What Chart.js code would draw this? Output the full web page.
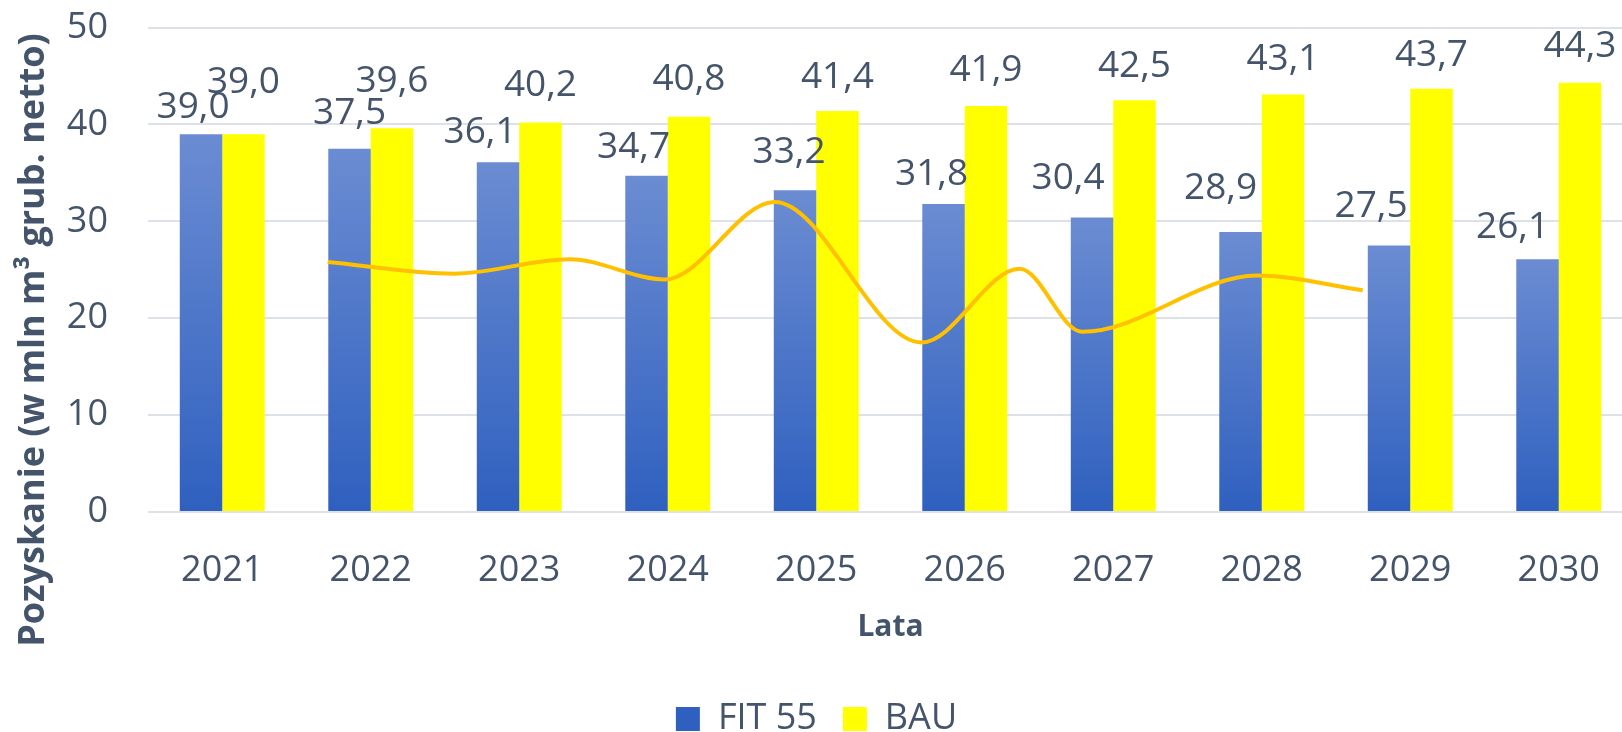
<!DOCTYPE html>
<html lang="pl">
<head>
<meta charset="UTF-8">
<title>Pozyskanie – FIT 55 i BAU</title>
<script src="https://cdn.jsdelivr.net/npm/chart.js"></script>
<style>
  html, body { margin: 0; padding: 0; background: #fff; overflow: hidden; }
  /* canvas pulled up a bit: chart.js keeps ~60px above the plot for the top tick label */
  .chart-box { position: relative; top: -34px; width: 1640px; height: 781px; }
</style>
</head>
<body>
<div class="chart-box"><canvas id="chart"></canvas></div>
<script>
  // dane
  const years = ['2021', '2022', '2023', '2024', '2025', '2026', '2027', '2028', '2029', '2030'];
  const fit55 = [39.0, 37.5, 36.1, 34.7, 33.2, 31.8, 30.4, 28.9, 27.5, 26.1];
  const bau = [39.0, 39.6, 40.2, 40.8, 41.4, 41.9, 42.5, 43.1, 43.7, 44.3];
  const yTicks = [0, 10, 20, 30, 40, 50];

  // hand-drawn orange curve (x in years, y in mln m3)
  const curveX = [2021.71, 2022.56, 2023.34, 2023.98, 2024.72, 2025.71, 2026.37, 2026.79, 2027.97, 2028.68];
  const curveY = [25.8, 24.6, 26.1, 24.0, 32.0, 17.5, 25.1, 18.6, 24.4, 22.9];

  // label nudges [dx, gap above bar top] in px - the labels were moved by hand in the original
  const fitLabelShift = [[-8, 27], [0, 35], [-18, 30], [-13, 28], [-6, 38], [-12, 29], [-24, 39], [-20, 44], [-18, 39], [-25, 32]];
  const bauLabelShift = [[0, 52], [0, 47], [0, 37], [0, 37], [0, 33], [0, 36], [0, 34], [0, 35], [0, 33], [0, 36]];

  const yTitle = 'Pozyskanie (w mln m³ grub. netto)';
  const textColor = '#44546a';
  const fontFamily = "'Open Sans', sans-serif";

  function blueGradient(ctx) {
    const chart = ctx.chart;
    if (ctx.type !== 'data' || !chart.chartArea) return '#4a74c8';
    const yScale = chart.scales.y;
    const top = yScale.getPixelForValue(ctx.raw);
    const bottom = yScale.getPixelForValue(0);
    const g = chart.ctx.createLinearGradient(0, top, 0, bottom);
    g.addColorStop(0, '#6b8cd2');
    g.addColorStop(1, '#2f60bf');
    return g;
  }

  const valueLabels = {
    id: 'valueLabels',
    afterDatasetsDraw(chart) {
      const ctx = chart.ctx;
      ctx.save();
      ctx.font = "37px " + fontFamily;
      ctx.fillStyle = textColor;
      ctx.textAlign = 'center';
      ctx.textBaseline = 'middle';
      [fitLabelShift, bauLabelShift].forEach((shift, di) => {
        const meta = chart.getDatasetMeta(di);
        meta.data.forEach((bar, i) => {
          const v = chart.data.datasets[di].data[i];
          ctx.fillText(v.toFixed(1).replace('.', ','), bar.x + shift[i][0], bar.y - shift[i][1]);
        });
      });
      ctx.restore();
    }
  };

  // y title drawn by hand: in the original it is centred lower than the plot
  const sideTitle = {
    id: 'sideTitle',
    afterDraw(chart) {
      const ctx = chart.ctx;
      ctx.save();
      ctx.translate(34, 374);
      ctx.rotate(-Math.PI / 2);
      ctx.font = "bold 36px " + fontFamily;
      ctx.fillStyle = textColor;
      ctx.textAlign = 'center';
      ctx.textBaseline = 'middle';
      ctx.fillText(yTitle, 0, 0);
      ctx.restore();
    }
  };

  // the curve sits between categories, so it goes on the category axis unparsed (x = category index)
  const firstYear = Number(years[0]);
  const curvePoints = curveX.map((x, i) => ({ x: x - firstYear, y: curveY[i] }));

  new Chart(document.getElementById('chart'), {
    type: 'bar',
    data: {
      labels: years,
      datasets: [
        {
          label: 'FIT 55',
          data: fit55,
          backgroundColor: blueGradient,
          borderWidth: 0,
          barPercentage: 1,
          categoryPercentage: 0.572,
          order: 1
        },
        {
          label: 'BAU',
          data: bau,
          backgroundColor: '#ffff00',
          borderWidth: 0,
          barPercentage: 1,
          categoryPercentage: 0.572,
          order: 1
        },
        {
          type: 'line',
          label: 'curve',
          data: curvePoints,
          parsing: false,
          borderColor: '#ffc000',
          borderWidth: 4,
          pointRadius: 0,
          cubicInterpolationMode: 'monotone',
          fill: false,
          order: 0
        }
      ]
    },
    options: {
      responsive: true,
      maintainAspectRatio: false,
      animation: false,
      layout: { padding: { top: 0, right: 7, left: 0, bottom: 0 } },
      plugins: {
        tooltip: { enabled: false },
        legend: {
          position: 'bottom',
          labels: {
            color: textColor,
            font: { family: fontFamily, size: 36 },
            boxWidth: 24,
            boxHeight: 24,
            padding: 26,
            filter: item => item.datasetIndex < 2
          }
        }
      },
      scales: {
        x: {
          type: 'category',
          offset: true,
          grid: { display: false },
          border: { display: false },
          ticks: { color: textColor, font: { family: fontFamily, size: 36 }, padding: 29 },
          title: {
            display: true,
            text: 'Lata',
            color: textColor,
            font: { family: fontFamily, size: 30, weight: 'bold' },
            padding: { top: 0, bottom: 30 }
          },
          afterFit(scale) { scale.height = 163; }
        },
        y: {
          min: 0,
          max: 50,
          afterBuildTicks(scale) { scale.ticks = yTicks.map(v => ({ value: v })); },
          grid: { color: '#dde1e8', lineWidth: 2, drawTicks: false },
          border: { display: false },
          ticks: { color: textColor, font: { family: fontFamily, size: 36 }, padding: 40 },
          afterFit(scale) { scale.width = 148; }
        }
      }
    },
    plugins: [valueLabels, sideTitle]
  });
</script>
</body>
</html>
